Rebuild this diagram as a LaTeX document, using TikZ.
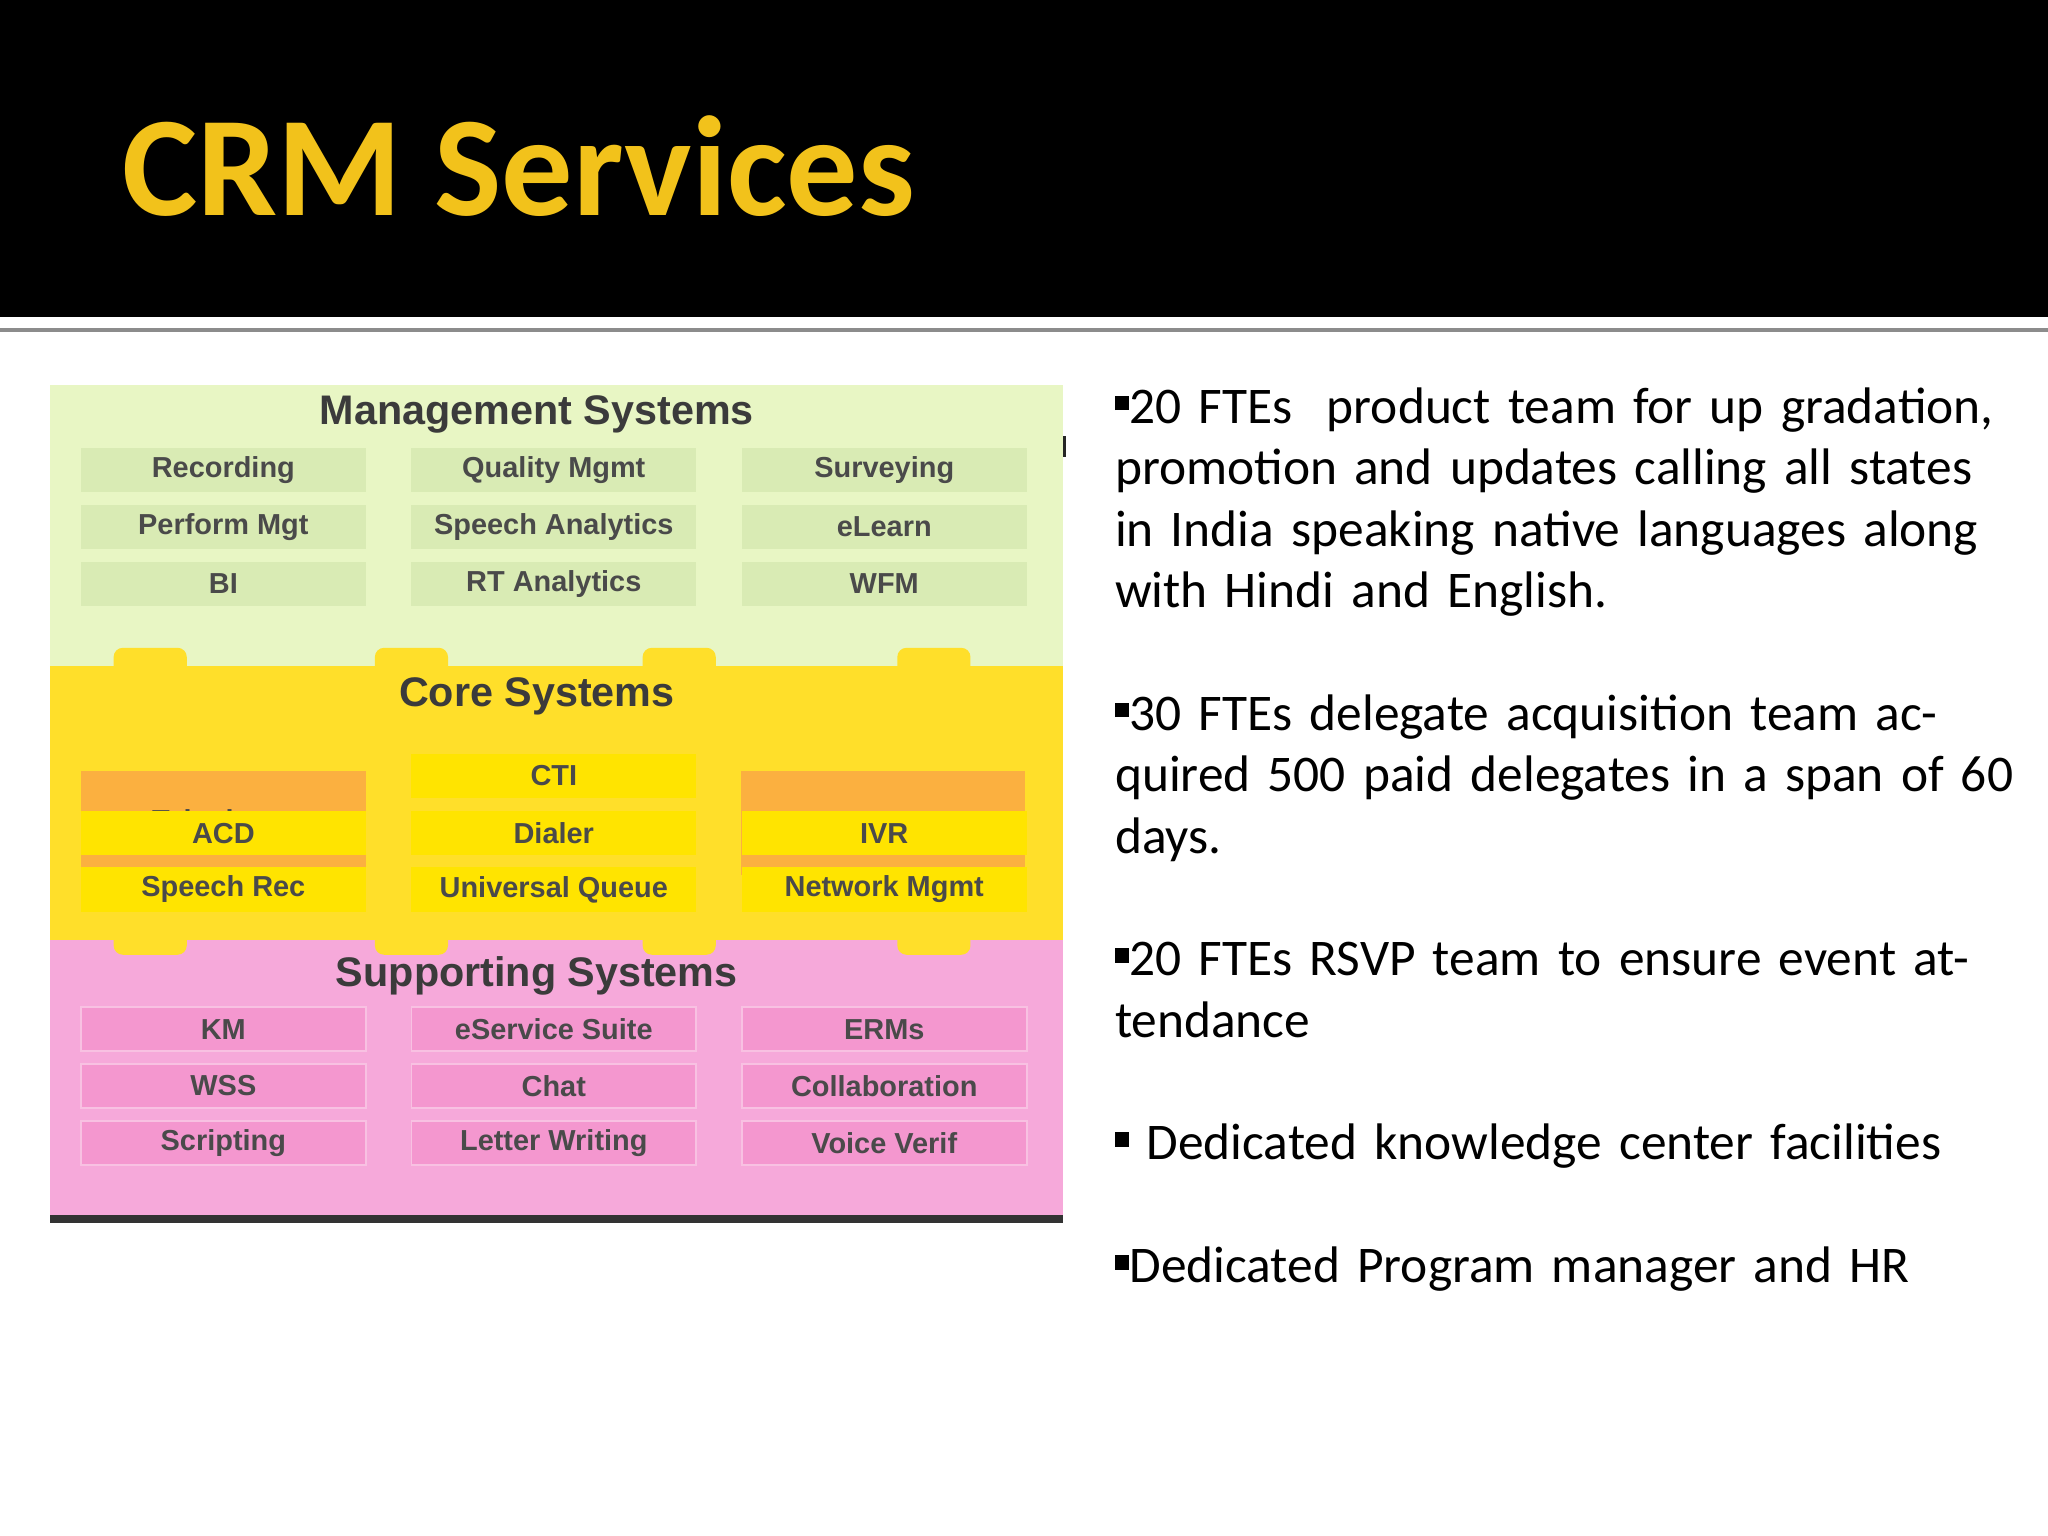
\documentclass[tikz,border=0pt]{standalone}
\usepackage{fontspec}
\setmainfont{Carlito}
\newfontfamily\cellfont{Liberation Sans}
\usetikzlibrary{positioning}
\definecolor{titlegold}{HTML}{F2C21B}
\definecolor{mgmtgreen}{HTML}{E8F6C4}
\definecolor{mgmtcell}{HTML}{D9EBB4}
\definecolor{coreyellow}{HTML}{FFDF2A}
\definecolor{corecell}{HTML}{FFE400}
\definecolor{coreorange}{HTML}{FBB040}
\definecolor{suppink}{HTML}{F6A9DA}
\definecolor{supcell}{HTML}{F497CF}
\definecolor{celltext}{HTML}{4A4A4A}
\newcommand{\sqb}{\rule[0.1cm]{0.11cm}{0.11cm}}
\tikzset{
  cell/.style={minimum width=2.18cm, minimum height=0.34cm, inner sep=0pt,
    font=\cellfont\bfseries\fontsize{6.3}{7}\selectfont, text=celltext},
  layerhead/.style={font=\cellfont\bfseries\fontsize{9}{10}\selectfont, text=celltext!80!black},
  bullet/.style={anchor=base west, text width=6.9cm, align=left, inner sep=0pt,
    font=\fontsize{11.2}{13.4}\selectfont, text=black}
}
\begin{document}
\begin{tikzpicture}
\useasboundingbox (0,0) rectangle (15.68,11.76);
\fill[white] (0,0) rectangle (15.68,11.76);
% header band
\fill[black] (0,9.33) rectangle (15.68,11.76);
\fill[black!45] (0,9.22) rectangle (15.68,9.25);
\node[anchor=base west, inner sep=0pt, text=titlegold,
  font=\bfseries\fontsize{31}{34}\selectfont] (title) at (0.93,10.11) {CRM Services};

% layers
\fill[black!85] (0.40,8.26) rectangle (8.16,8.42);
\fill[mgmtgreen] (0.38,8.81) rectangle (8.14,6.66);
\fill[coreyellow] (0.38,6.66) rectangle (8.14,4.56);
\fill[suppink] (0.38,4.56) rectangle (8.14,2.46);
\fill[black!80] (0.38,2.46) rectangle (8.14,2.40);
% tabs between layers
\foreach \x in {1.15,3.15,5.20,7.15}{
  \fill[coreyellow, rounded corners=2pt] (\x-0.28,6.55) rectangle (\x+0.28,6.80);
  \fill[coreyellow, rounded corners=2pt] (\x-0.28,4.45) rectangle (\x+0.28,4.70);
}
\node[layerhead] (mgmt) at (4.11,8.59) {Management Systems};
\node[layerhead] (core) at (4.11,6.43) {Core Systems};
\node[layerhead] (supp) at (4.11,4.29) {Supporting Systems};

% management cells
\foreach \name/\txt [count=\i] in {rec/Recording,qual/Quality Mgmt,surv/Surveying,
    perf/Perform Mgt,speech/Speech Analytics,elearn/eLearn/Coach,
    bi/BI,rta/RT Analytics,wfm/WFM}{
  \pgfmathsetmacro\col{mod(\i-1,3)}
  \pgfmathsetmacro\row{int((\i-1)/3)}
  \node[cell, fill=mgmtcell] (\name) at ({1.71+2.53*\col},{8.16-0.435*\row}) {\txt};
}

% core cells
\node[cell, fill=coreorange, minimum height=0.80cm] (tel) at (1.71,5.46) {Telephony};
\node[cell, fill=coreorange, minimum height=0.80cm] (voip) at (6.76,5.46) {VOIP};
\node[cell, fill=corecell] (cti) at (4.24,5.82) {CTI};
\foreach \name/\txt [count=\i] in {acd/ACD,dialer/Dialer,ivr/IVR,
    srec/Speech Rec,uq/Universal Queue,net/Network Mgmt}{
  \pgfmathsetmacro\col{mod(\i-1,3)}
  \pgfmathsetmacro\row{int((\i-1)/3)}
  \node[cell, fill=corecell] (\name) at ({1.71+2.53*\col},{5.38-0.43*\row}) {\txt};
}

% supporting cells
\foreach \name/\txt [count=\i] in {km/KM,eserv/eService Suite,erms/ERMs,
    wss/WSS,chat/Chat,collab/Collaboration,
    script/Scripting,letter/Letter Writing,voice/Voice Verif}{
  \pgfmathsetmacro\col{mod(\i-1,3)}
  \pgfmathsetmacro\row{int((\i-1)/3)}
  \node[cell, fill=supcell, draw=supcell!60!white] (\name) at ({1.71+2.53*\col},{3.88-0.435*\row}) {\txt};
}

% bullet points
\node[bullet] (b1) at (8.53,8.52) {\sqb20 FTEs\ \ product team for up gradation, promotion and updates calling all states in India speaking native languages along with Hindi and English.};
\node[bullet] (b2) at (8.53,6.17) {\sqb30 FTEs delegate acquisition team acquired 500 paid delegates in a span of 60 days.};
\node[bullet] (b3) at (8.53,4.29) {\sqb20 FTEs RSVP team to ensure event attendance};
\node[bullet] (b4) at (8.53,2.88) {\sqb\ Dedicated knowledge center facilities};
\node[bullet] (b5) at (8.53,1.94) {\sqb Dedicated Program manager and HR};
\end{tikzpicture}
\end{document}
